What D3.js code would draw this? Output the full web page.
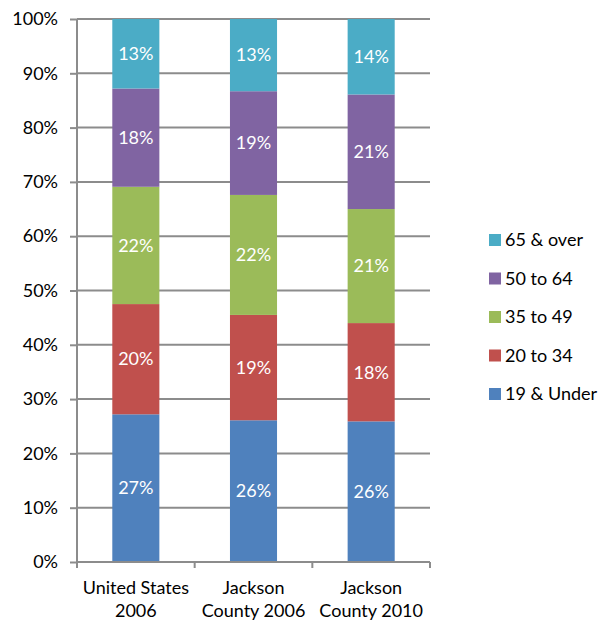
<!DOCTYPE html>
<html lang="en">
  <head>
    <meta charset="UTF-8" />
    <title>Age distribution</title>
    <script src="https://d3js.org/d3.v7.min.js"></script>
    <style>
      body {
        margin: 0;
        font-family: Lato, "Open Sans", sans-serif;
        background: #fff;
      }
      .grid line {
        stroke: #8c8c8c;
        stroke-width: 2px;
      }
      .axis path,
      .axis line {
        stroke: #8c8c8c;
        stroke-width: 2px;
      }
      .axis text {
        font-size: 18px;
        fill: #000;
        font-family: Lato, "Open Sans", sans-serif;
      }
    </style>
  </head>
  <body>
    <script>
      var categories = [
        ["United States", "2006"],
        ["Jackson", "County 2006"],
        ["Jackson", "County 2010"],
      ];
      var seriesNames = ["19 & Under", "20 to 34", "35 to 49", "50 to 64", "65 & over"];
      var colors = ["#4f81bd", "#c0504d", "#9bbb59", "#8064a2", "#4bacc6"];
      // shares per category, bottom to top
      var values = [
        [27.2, 20.3, 21.6, 18.1, 12.8],
        [26.1, 19.4, 22.1, 19.1, 13.3],
        [25.9, 18.1, 21.0, 21.1, 13.9],
      ];
      var yTicks = [0, 10, 20, 30, 40, 50, 60, 70, 80, 90, 100];

      var width = 601,
        height = 622;
      var margin = { top: 19, left: 77, right: 171, bottom: 60 };
      var innerW = width - margin.left - margin.right;
      var innerH = height - margin.top - margin.bottom;

      var svg = d3
        .select("body")
        .append("svg")
        .attr("width", width)
        .attr("height", height);

      var g = svg
        .append("g")
        .attr("transform", "translate(" + margin.left + "," + margin.top + ")");

      var x = d3
        .scaleBand()
        .domain(d3.range(categories.length))
        .range([0, innerW])
        .paddingInner(0.6)
        .paddingOuter(0.3);
      var y = d3.scaleLinear().domain([0, 100]).range([innerH, 0]);

      // gridlines
      g.append("g")
        .attr("class", "grid")
        .selectAll("line")
        .data(yTicks.slice(1))
        .enter()
        .append("line")
        .attr("x1", 0)
        .attr("x2", innerW)
        .attr("y1", function (d) { return y(d); })
        .attr("y2", function (d) { return y(d); });

      // stacked data
      var rows = values.map(function (v, i) {
        var r = { idx: i };
        seriesNames.forEach(function (s, j) { r[s] = v[j]; });
        return r;
      });
      var stack = d3.stack().keys(seriesNames)(rows);

      var layers = g
        .selectAll(".layer")
        .data(stack)
        .enter()
        .append("g")
        .attr("class", "layer")
        .attr("fill", function (d, i) { return colors[i]; });

      layers
        .selectAll("rect")
        .data(function (d) { return d; })
        .enter()
        .append("rect")
        .attr("x", function (d) { return x(d.data.idx); })
        .attr("width", x.bandwidth())
        .attr("y", function (d) { return y(d[1]); })
        .attr("height", function (d) { return y(d[0]) - y(d[1]); });

      layers
        .selectAll("text")
        .data(function (d) { return d; })
        .enter()
        .append("text")
        .attr("x", function (d) { return x(d.data.idx) + x.bandwidth() / 2; })
        .attr("y", function (d) { return (y(d[0]) + y(d[1])) / 2; })
        .attr("dy", "0.35em")
        .attr("text-anchor", "middle")
        .attr("fill", "#fff")
        .style("font-size", "18px")
        .text(function (d) { return Math.round(d[1] - d[0]) + "%"; });

      // y axis
      var yAxis = g
        .append("g")
        .attr("class", "axis")
        .call(
          d3.axisLeft(y)
            .tickValues(yTicks)
            .tickSize(7)
            .tickPadding(12)
            .tickFormat(function (d) { return d + "%"; })
        );
      yAxis.select(".domain").attr("d", "M0,0V" + innerH);

      // x axis with ticks between categories
      var xg = g
        .append("g")
        .attr("class", "axis")
        .attr("transform", "translate(0," + innerH + ")");
      xg.append("line").attr("x1", 0).attr("x2", innerW);
      var step = innerW / categories.length;
      xg.selectAll(".tk")
        .data(d3.range(categories.length + 1))
        .enter()
        .append("line")
        .attr("x1", function (d) { return d * step; })
        .attr("x2", function (d) { return d * step; })
        .attr("y1", 0)
        .attr("y2", 6);
      var lbl = xg
        .selectAll(".lbl")
        .data(categories)
        .enter()
        .append("text")
        .attr("text-anchor", "middle")
        .attr("x", function (d, i) { return x(i) + x.bandwidth() / 2; });
      lbl.append("tspan")
        .attr("x", function (d, i) { return x(i) + x.bandwidth() / 2; })
        .attr("y", 32)
        .text(function (d) { return d[0]; });
      lbl.append("tspan")
        .attr("x", function (d, i) { return x(i) + x.bandwidth() / 2; })
        .attr("y", 55)
        .text(function (d) { return d[1]; });

      // legend, top entry is last series
      var legend = svg
        .append("g")
        .attr("transform", "translate(489,240)")
        .selectAll("g")
        .data(seriesNames.slice().reverse())
        .enter()
        .append("g")
        .attr("transform", function (d, i) { return "translate(0," + i * 38.5 + ")"; });
      legend
        .append("rect")
        .attr("x", 0)
        .attr("y", -6)
        .attr("width", 12)
        .attr("height", 12)
        .attr("fill", function (d, i) { return colors[seriesNames.length - 1 - i]; });
      legend
        .append("text")
        .attr("x", 16)
        .attr("dy", "0.35em")
        .style("font-size", "18px")
        .text(function (d) { return d; });
    </script>
  </body>
</html>
